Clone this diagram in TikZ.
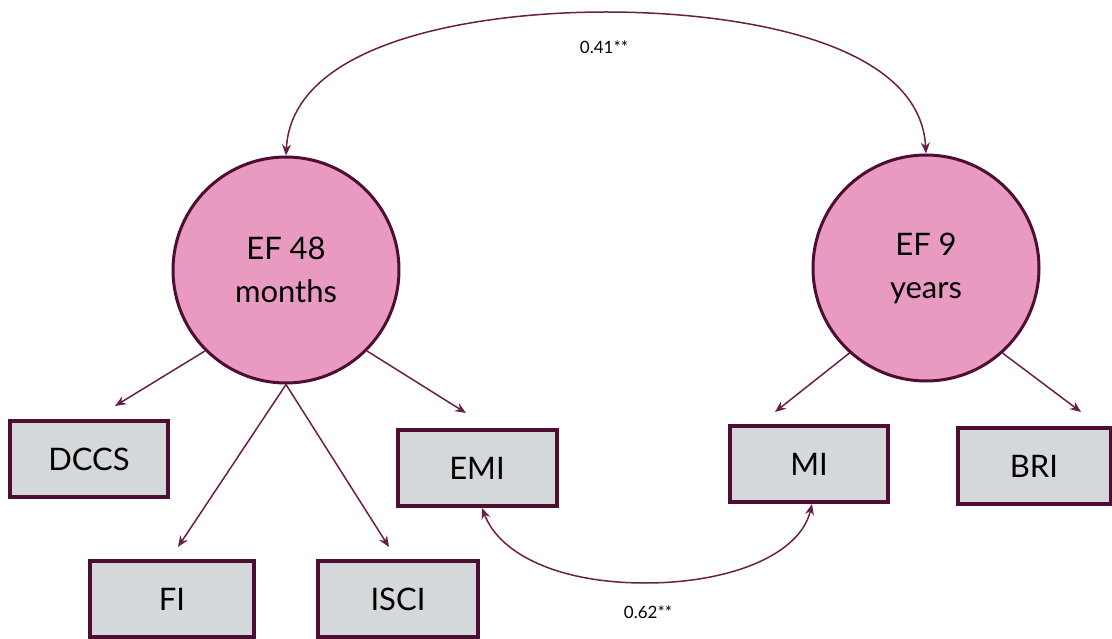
\documentclass[tikz,border=0pt]{standalone}
\usepackage{fontspec}
\setmainfont{Lato}
\usetikzlibrary{arrows.meta}
\definecolor{maroon}{HTML}{4E0E33}
\definecolor{linecol}{HTML}{6A1F48}
\definecolor{latent}{HTML}{E99AC0}
\definecolor{boxfill}{HTML}{D4D8DB}
\tikzset{
  latentvar/.style={circle, draw=maroon, line width=3pt, fill=latent,
    minimum size=226pt, inner sep=0pt, align=center,
    font=\fontsize{31}{43}\selectfont},
  indicator/.style={rectangle, draw=maroon, line width=4pt, fill=boxfill,
    minimum height=76pt, inner sep=0pt,
    font=\fontsize{31}{36}\selectfont},
  loading/.style={draw=linecol, line width=1.5pt,
    -{Stealth[length=11pt,width=9pt]}},
  covar/.style={draw=linecol, line width=1.5pt,
    {Stealth[length=11pt,width=9pt]}-{Stealth[length=11pt,width=9pt]}},
  coef/.style={font=\fontsize{17}{20}\selectfont, inner sep=0pt}
}
\begin{document}
\begin{tikzpicture}[x=1pt, y=-1pt]
\useasboundingbox (0,0) rectangle (1112,639);

% latent factors
\node[latentvar] (ef48) at (286,270) {EF 48\\months};
\node[latentvar] (ef9)  at (926,268) {EF 9\\years};

% observed indicators
\node[indicator, minimum width=158pt] (dccs) at (89,459)  {DCCS};
\node[indicator, minimum width=164pt] (fi)   at (172,599) {FI};
\node[indicator, minimum width=160pt] (isci) at (398,599) {ISCI};
\node[indicator, minimum width=159pt] (emi)  at (477,468) {EMI};
\node[indicator, minimum width=158pt] (mi)   at (809,464) {MI};
\node[indicator, minimum width=153pt] (bri)  at (1034,466) {BRI};

% free ends of the loading arrows
\coordinate (tdccs) at (115,406);
\coordinate (tfi)   at (178,547);
\coordinate (tisci) at (389,547);
\coordinate (temi)  at (466,413);
\coordinate (tmi)   at (775,412);
\coordinate (tbri)  at (1081,412);

% factor loadings
\draw[loading] (ef48.225) -- (tdccs);
\draw[loading] (ef48.270) -- (tfi);
\draw[loading] (ef48.270) -- (tisci);
\draw[loading] (ef48.315) -- (temi);
\draw[loading] (ef9.228)  -- (tmi);
\draw[loading] (ef9.312)  -- (tbri);

% correlations
\draw[covar] (ef48.north) .. controls (292,40) and (480,12) .. (606,12)
  .. controls (735,12) and (920,40) .. (ef9.north);
\node[coef] (r1) at (604,47) {0.41**};

\draw[covar] ([xshift=5pt]emi.south) .. controls (500,555) and (560,583) .. (645,583)
  .. controls (730,583) and (800,555) .. ([xshift=3pt]mi.south);
\node[coef] (r2) at (648,612) {0.62**};
\end{tikzpicture}
\end{document}
